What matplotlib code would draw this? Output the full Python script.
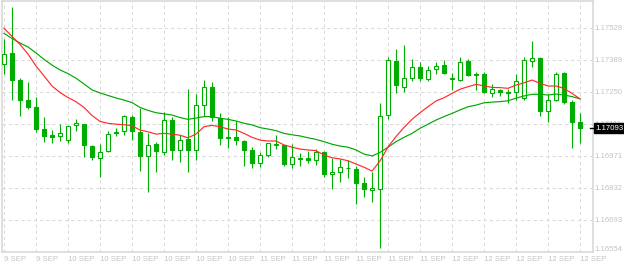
import matplotlib
matplotlib.use("Agg")
import matplotlib.pyplot as plt
import matplotlib.transforms as mtransforms
import numpy as np

# ---------------- data ----------------
opens = [1.17371, 1.17422, 1.17303, 1.17216, 1.17186, 1.17090, 1.17064, 1.17061, 1.17041, 1.17106,
         1.17112, 1.17016, 1.16963, 1.16993, 1.17078, 1.17080, 1.17142, 1.17078, 1.16974, 1.17025,
         1.16989, 1.17129, 1.16997, 1.17047, 1.16997, 1.17193, 1.17271, 1.17139, 1.17054, 1.17055,
         1.17038, 1.16999, 1.16941, 1.16978, 1.17022, 1.17019, 1.16937, 1.16963, 1.16964, 1.16954,
         1.16989, 1.16893, 1.16902, 1.16921, 1.16915, 1.16854, 1.16824, 1.16831, 1.17150, 1.17386,
         1.17271, 1.17311, 1.17358, 1.17309, 1.17350, 1.17368, 1.17311, 1.17304, 1.17384, 1.17328,
         1.17329, 1.17248, 1.17258, 1.17251, 1.17250, 1.17226, 1.17387, 1.17398, 1.17167, 1.17218,
         1.17332, 1.17206, 1.17121]
highs = [1.17480, 1.17622, 1.17311, 1.17296, 1.17231, 1.17142, 1.17086, 1.17112, 1.17104, 1.17134,
         1.17113, 1.17021, 1.17025, 1.17081, 1.17096, 1.17150, 1.17150, 1.17181, 1.17073, 1.17032,
         1.17163, 1.17141, 1.17063, 1.17264, 1.17242, 1.17303, 1.17293, 1.17160, 1.17141, 1.17124,
         1.17042, 1.17011, 1.16990, 1.17031, 1.17063, 1.17022, 1.17024, 1.16984, 1.16994, 1.17002,
         1.16994, 1.16963, 1.16960, 1.16957, 1.16928, 1.16880, 1.16904, 1.17204, 1.17402, 1.17438,
         1.17455, 1.17393, 1.17381, 1.17365, 1.17383, 1.17390, 1.17334, 1.17403, 1.17393, 1.17338,
         1.17339, 1.17284, 1.17263, 1.17265, 1.17329, 1.17402, 1.17471, 1.17402, 1.17242, 1.17339,
         1.17338, 1.17216, 1.17161]
lows = [1.17331, 1.17218, 1.17148, 1.17179, 1.17078, 1.17035, 1.17031, 1.17039, 1.17028, 1.17080,
        1.16970, 1.16954, 1.16883, 1.16989, 1.17061, 1.17065, 1.17042, 1.16909, 1.16817, 1.16904,
        1.16978, 1.16957, 1.16945, 1.16904, 1.16954, 1.17147, 1.17125, 1.17021, 1.17009, 1.17019,
        1.16931, 1.16922, 1.16926, 1.16970, 1.17004, 1.16929, 1.16922, 1.16931, 1.16941, 1.16934,
        1.16883, 1.16831, 1.16861, 1.16878, 1.16765, 1.16796, 1.16774, 1.16573, 1.17132, 1.17248,
        1.17251, 1.17299, 1.17299, 1.17300, 1.17331, 1.17329, 1.17260, 1.17299, 1.17319, 1.17260,
        1.17245, 1.17231, 1.17234, 1.17203, 1.17215, 1.17215, 1.17361, 1.17148, 1.17122, 1.17213,
        1.17199, 1.17006, 1.17031]
closes = [1.17416, 1.17304, 1.17218, 1.17187, 1.17092, 1.17061, 1.17057, 1.17071, 1.17103, 1.17115,
          1.17019, 1.16967, 1.16989, 1.17067, 1.17071, 1.17145, 1.17083, 1.16973, 1.17019, 1.16996,
          1.17128, 1.17000, 1.17042, 1.17000, 1.17193, 1.17271, 1.17144, 1.17052, 1.17052, 1.17044,
          1.17000, 1.16944, 1.16976, 1.17028, 1.17025, 1.16939, 1.16967, 1.16960, 1.16957, 1.16989,
          1.16896, 1.16902, 1.16924, 1.16922, 1.16857, 1.16831, 1.16834, 1.17145, 1.17389, 1.17280,
          1.17311, 1.17360, 1.17313, 1.17345, 1.17363, 1.17332, 1.17308, 1.17380, 1.17324, 1.17325,
          1.17252, 1.17263, 1.17250, 1.17245, 1.17298, 1.17389, 1.17398, 1.17170, 1.17215, 1.17331,
          1.17209, 1.17122, 1.17093]
ma_fast = [1.17528, 1.17493, 1.17458, 1.17416, 1.17364, 1.17321, 1.17277, 1.17249, 1.17227, 1.17209,
           1.17184, 1.17149, 1.17123, 1.17115, 1.17111, 1.17109, 1.17104, 1.17086, 1.17078, 1.17068,
           1.17071, 1.17068, 1.17063, 1.17052, 1.17068, 1.17100, 1.17106, 1.17100, 1.17090, 1.17086,
           1.17071, 1.17054, 1.17042, 1.17038, 1.17038, 1.17021, 1.17011, 1.17003, 1.16999, 1.16996,
           1.16977, 1.16965, 1.16960, 1.16952, 1.16938, 1.16924, 1.16907, 1.16951, 1.17012, 1.17057,
           1.17097, 1.17132, 1.17161, 1.17187, 1.17212, 1.17226, 1.17245, 1.17263, 1.17274, 1.17284,
           1.17278, 1.17271, 1.17270, 1.17267, 1.17281, 1.17291, 1.17303, 1.17289, 1.17277, 1.17277,
           1.17267, 1.17245, 1.17221]
ma_slow = [1.17506, 1.17484, 1.17464, 1.17447, 1.17421, 1.17393, 1.17368, 1.17347, 1.17331, 1.17311,
           1.17286, 1.17260, 1.17247, 1.17236, 1.17225, 1.17216, 1.17205, 1.17184, 1.17171, 1.17161,
           1.17156, 1.17151, 1.17140, 1.17132, 1.17138, 1.17144, 1.17144, 1.17137, 1.17132, 1.17125,
           1.17115, 1.17108, 1.17096, 1.17090, 1.17083, 1.17071, 1.17065, 1.17060, 1.17052, 1.17045,
           1.17035, 1.17024, 1.17016, 1.17011, 1.16999, 1.16981, 1.16973, 1.16988, 1.17011, 1.17035,
           1.17054, 1.17071, 1.17093, 1.17111, 1.17129, 1.17144, 1.17158, 1.17173, 1.17187, 1.17194,
           1.17204, 1.17207, 1.17209, 1.17213, 1.17224, 1.17234, 1.17241, 1.17241, 1.17238, 1.17242,
           1.17238, 1.17231, 1.17221]
price_ticks = [1.17528, 1.17389, 1.17250, 1.17111, 1.16971, 1.16832, 1.16693, 1.16554]
date_labels = ["9 SEP", "9 SEP", "10 SEP", "10 SEP", "10 SEP", "10 SEP", "10 SEP", "10 SEP",
               "11 SEP", "11 SEP", "11 SEP", "11 SEP", "11 SEP", "11 SEP",
               "12 SEP", "12 SEP", "12 SEP", "12 SEP", "12 SEP"]
date_tick_step = 4

# ---------------- style ----------------
GREEN = "#00ad00"
RED = "#ff2a2a"
MA_GREEN = "#00a800"
GRID = "#d9d9d9"
TEXT = "#c4c4c4"
BORDER = "#d6d6d6"
FONT = ["Liberation Sans", "DejaVu Sans"]
FS = 5.6

W, H = 624, 266
fig = plt.figure(figsize=(W / 100, H / 100), dpi=100)
fig.patch.set_facecolor("white")
ax_l, ax_r, ax_t, ax_b = 2, 593, 1.3, 252.3
ax = fig.add_axes([ax_l / W, (H - ax_b) / H, (ax_r - ax_l) / W, (ax_b - ax_t) / H])

n = len(opens)
x = np.arange(n)
o = np.array(opens); h = np.array(highs); l = np.array(lows); c = np.array(closes)
px = 1 / 8.0  # one pixel in data x units

ax.set_xlim(-2 * px, -2 * px + (ax_r - ax_l) * px)
step = (price_ticks[0] - price_ticks[-1]) / (len(price_ticks) - 1)
top = price_ticks[0] + step * (28.3 - ax_t) / 32.0
ax.set_ylim(price_ticks[-1], top)

# grid
for xv in range(0, n, date_tick_step):
    ax.axvline(xv, color=GRID, lw=0.75, ls=(0, (3, 3)), zorder=0)
for yv in price_ticks[:-1]:
    ax.axhline(yv, color=GRID, lw=0.75, ls=(0, (3, 3)), zorder=0)

# candles
ax.vlines(x, l, h, color=GREEN, lw=0.8, zorder=2)
bull = c >= o
bottoms = np.minimum(o, c)
heights = np.abs(c - o)
ax.bar(x[bull], heights[bull], bottom=bottoms[bull], width=4 * px,
       facecolor="white", edgecolor=GREEN, linewidth=0.8, zorder=3)
ax.bar(x[~bull], heights[~bull], bottom=bottoms[~bull], width=4 * px,
       facecolor=GREEN, edgecolor=GREEN, linewidth=0.8, zorder=3)

# moving averages
ax.plot(x, ma_slow, color=MA_GREEN, lw=0.85, zorder=4)
ax.plot(x, ma_fast, color=RED, lw=0.85, zorder=5)

# axes look
for s in ax.spines.values():
    s.set_color(BORDER)
    s.set_linewidth(1.1)
ax.set_xticks([]); ax.set_yticks([])

trans_y = mtransforms.blended_transform_factory(ax.transAxes, ax.transData)
trans_x = mtransforms.blended_transform_factory(ax.transData, ax.transAxes)

for i, pv in enumerate(price_ticks):
    dy = 2.2 if i == len(price_ticks) - 1 else 0
    ax.annotate(f"{pv:.5f}", xy=(1.0, pv), xycoords=trans_y, xytext=(1.0, dy),
                textcoords="offset points", ha="left", va="center",
                fontsize=FS, family=FONT, color=TEXT, annotation_clip=False)

for k, lab in enumerate(date_labels):
    ax.annotate(lab, xy=(k * date_tick_step, 0), xycoords=trans_x, xytext=(0.3, -3.0),
                textcoords="offset points", ha="left", va="top",
                fontsize=FS, family=FONT, color=TEXT, annotation_clip=False)

# current price marker
last = closes[-1]
ax.plot([0.995, 1.002], [last, last], transform=trans_y, color="black", lw=1.0,
        clip_on=False, zorder=6)
ax.annotate(f"{last:.5f}", xy=(1.0, last), xycoords=trans_y, xytext=(1.6, 0),
            textcoords="offset points", ha="left", va="center", fontsize=FS,
            family=FONT, color="white", annotation_clip=False, zorder=7,
            bbox=dict(boxstyle="square,pad=0.2", fc="black", ec="black"))

fig.savefig("out.png", dpi=100, facecolor="white")
